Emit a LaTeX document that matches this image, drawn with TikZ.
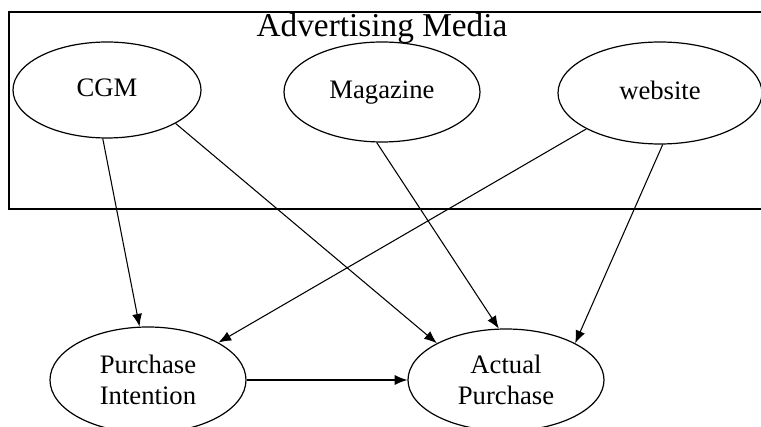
\documentclass[tikz,border=0pt]{standalone}
\usepackage{fontspec}
\setmainfont{Liberation Serif}
\usetikzlibrary{shapes.geometric,arrows.meta}

\begin{document}
\begin{tikzpicture}[x=0.75pt,y=-0.75pt,
media/.style={draw,ellipse,inner sep=0pt,line width=0.9pt,font=\fontsize{20}{23}\selectfont,align=center},
link/.style={-{Latex[length=9.5pt,width=7.5pt]},line width=0.8pt}]
\useasboundingbox (0,0) rectangle (761,427);
\draw[line width=1.1pt] (9,12) rectangle (775,209);
\node (title) [anchor=base,font=\fontsize{25}{30}\selectfont] at (382,37) {Advertising Media};
\node (cgm) [media,text height=13pt,text depth=3pt,minimum width=141pt,minimum height=72pt] at (107,90) {CGM};
\node (mag) [media,text height=13pt,text depth=3pt,minimum width=147pt,minimum height=75pt] at (382,92) {Magazine};
\node (web) [media,text height=13pt,text depth=3pt,minimum width=153pt,minimum height=76.5pt] at (660,93) {website};
\node (intent) [media,align=left,minimum width=147pt,minimum height=79.5pt] at (148,380) {Purchase\\Intention};
\node (actual) [media,minimum width=147pt,minimum height=76.5pt] at (506,380) {Actual\\Purchase};
\draw[link] (cgm.265) -- (intent.99);
\draw[link] (cgm.334) -- (actual.152);
\draw[link] (mag.264) -- (actual.98);
\draw[link] (web.206) -- (intent.28);
\draw[link] (web.273) -- (actual.28);
\draw[link] (intent) -- (actual);
\end{tikzpicture}
\end{document}
